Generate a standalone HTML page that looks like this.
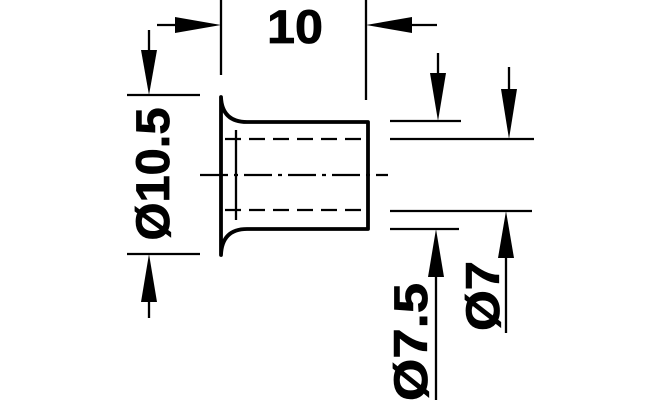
<!DOCTYPE html>
<html><head><meta charset="utf-8"><style>html,body{margin:0;padding:0;background:#fff}svg{display:block}</style></head><body>
<svg width="659" height="400" viewBox="0 0 659 400" xmlns="http://www.w3.org/2000/svg">
<g stroke="#000" fill="none" stroke-width="2.3">
<line x1="221" y1="0" x2="221" y2="75"/>
<line x1="366" y1="0" x2="366" y2="100"/>
<line x1="127" y1="95" x2="200" y2="95"/>
<line x1="127" y1="254" x2="200" y2="254"/>
<line x1="157" y1="25" x2="200" y2="25"/>
<line x1="388" y1="25" x2="437" y2="25"/>
<line x1="149" y1="30" x2="149" y2="75"/>
<line x1="149" y1="275" x2="149" y2="318"/>
<path d="M221 97 Q222 122 247 122 L368 122 L368 229 L247 229 Q222 229 221 255 Z" stroke-width="3.8" stroke-linejoin="round"/>
<line x1="236" y1="130" x2="236" y2="220"/>
<line x1="225" y1="139" x2="366" y2="139" stroke-dasharray="16,8"/>
<line x1="225" y1="210" x2="366" y2="210" stroke-dasharray="16,8"/>
<line x1="200" y1="175" x2="388" y2="175" stroke-dasharray="28,6,4,6"/>
<line x1="390" y1="121" x2="461" y2="121"/>
<line x1="390" y1="139" x2="534" y2="139"/>
<line x1="390" y1="211" x2="532" y2="211"/>
<line x1="390" y1="229" x2="459" y2="229"/>
<line x1="438" y1="53" x2="438" y2="100"/>
<line x1="509" y1="67" x2="509" y2="118"/>
<line x1="436" y1="250" x2="436" y2="400"/>
<line x1="506" y1="232" x2="506" y2="333"/>
</g>
<g fill="#000">
<polygon points="221,25 175,17 175,33"/>
<polygon points="366,25 412,17 412,33"/>
<polygon points="149,95 141,50 157,50"/>
<polygon points="149,254 141,302 157,302"/>
<polygon points="438,121 430,73 446,73"/>
<polygon points="509,139 501,89 517,89"/>
<polygon points="436,229 428,277 444,277"/>
<polygon points="506,211 498,258 514,258"/>
</g>
<g font-family="Liberation Sans, sans-serif" font-weight="bold" font-size="47" fill="#000" stroke="#000" stroke-width="0.8">
<text x="295" y="43" text-anchor="middle" textLength="56" lengthAdjust="spacingAndGlyphs">10</text>
<text transform="translate(169,174) rotate(-90)" text-anchor="middle" textLength="133" lengthAdjust="spacingAndGlyphs">Ø10.5</text>
<text transform="translate(427,342) rotate(-90)" text-anchor="middle" textLength="118" lengthAdjust="spacingAndGlyphs">Ø7.5</text>
<text transform="translate(499,296) rotate(-90)" text-anchor="middle" textLength="70" lengthAdjust="spacingAndGlyphs">Ø7</text>
</g>
</svg>
</body></html>
